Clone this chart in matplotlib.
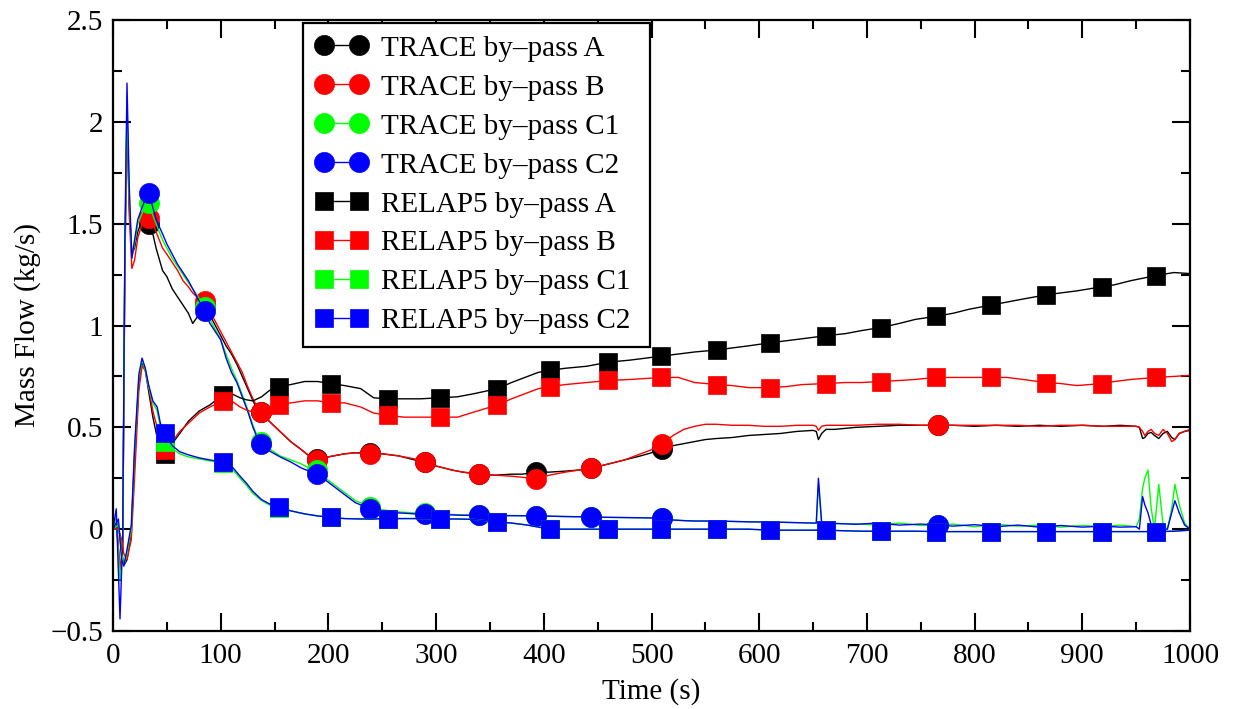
import numpy as np
import matplotlib
matplotlib.use("Agg")
import matplotlib.pyplot as plt
from matplotlib.ticker import MultipleLocator, FuncFormatter

plt.rcParams['font.family'] = ['Liberation Serif', 'DejaVu Serif']

# ---------------- data ----------------
TRACE_T = [0, 3, 6.5, 9, 11, 13, 15, 17.5, 20, 23,
           27, 30, 33, 37, 40, 46, 50, 55, 60, 65,
           70, 74, 78, 85, 90, 95, 100, 105, 110, 115,
           120, 125, 130, 133, 137, 145, 155, 165, 175, 182,
           189, 195, 205, 215, 225, 239, 250, 265, 280, 290,
           300, 315, 325, 340, 355, 370, 380, 393, 405, 420,
           432, 444, 460, 475, 490, 500, 510, 520, 530, 540,
           550, 560, 575, 590, 605, 620, 635, 650, 653, 655,
           658, 662, 670, 690, 710, 730, 750, 766, 780, 800,
           820, 840, 860, 880, 900, 920, 935, 950, 953, 956,
           958, 961, 964, 967, 971, 975, 979, 983, 986, 990,
           995, 1000]

TRACE_A = [0.0, 0.05, -0.2, -0.1, 1.3, 2.02, 1.6, 1.35, 1.38, 1.46,
           1.52, 1.54, 1.50, 1.45, 1.38, 1.27, 1.24, 1.18, 1.14, 1.10,
           1.06, 1.01, 1.04, 1.10, 1.05, 1.00, 0.95, 0.90, 0.86, 0.81,
           0.75, 0.69, 0.63, 0.60, 0.575, 0.53, 0.48, 0.43, 0.39, 0.36,
           0.345, 0.35, 0.36, 0.37, 0.375, 0.375, 0.37, 0.36, 0.34, 0.33,
           0.31, 0.29, 0.28, 0.27, 0.265, 0.27, 0.27, 0.28, 0.28, 0.285,
           0.29, 0.30, 0.32, 0.34, 0.36, 0.375, 0.395, 0.41, 0.42, 0.43,
           0.44, 0.445, 0.45, 0.46, 0.465, 0.47, 0.48, 0.485, 0.48, 0.44,
           0.47, 0.49, 0.49, 0.50, 0.505, 0.51, 0.51, 0.51, 0.51, 0.505,
           0.51, 0.505, 0.51, 0.505, 0.51, 0.505, 0.51, 0.505, 0.50, 0.445,
           0.45, 0.47, 0.475, 0.46, 0.445, 0.47, 0.48, 0.45, 0.44, 0.47,
           0.48, 0.485]

TRACE_B = [0.0, 0.05, -0.2, -0.1, 1.25, 2.05, 1.55, 1.28, 1.32, 1.43,
           1.50, 1.56, 1.53, 1.50, 1.46, 1.38, 1.35, 1.31, 1.27, 1.22,
           1.19, 1.16, 1.14, 1.12, 1.07, 1.02, 0.97, 0.92, 0.87, 0.82,
           0.77, 0.70, 0.64, 0.61, 0.575, 0.53, 0.48, 0.43, 0.39, 0.36,
           0.34, 0.35, 0.36, 0.37, 0.375, 0.37, 0.37, 0.36, 0.345, 0.33,
           0.31, 0.29, 0.28, 0.27, 0.265, 0.26, 0.255, 0.245, 0.265, 0.28,
           0.29, 0.30, 0.32, 0.34, 0.37, 0.39, 0.42, 0.46, 0.49, 0.505,
           0.515, 0.515, 0.51, 0.51, 0.505, 0.505, 0.51, 0.51, 0.505, 0.485,
           0.505, 0.51, 0.51, 0.51, 0.515, 0.515, 0.51, 0.51, 0.51, 0.51,
           0.51, 0.51, 0.505, 0.51, 0.51, 0.505, 0.505, 0.505, 0.50, 0.48,
           0.46, 0.48, 0.49, 0.47, 0.46, 0.49, 0.47, 0.43, 0.44, 0.47,
           0.48, 0.49]

TRACE_C1 = [0.0, 0.05, -0.25, -0.12, 1.35, 2.10, 1.65, 1.33, 1.40, 1.50,
            1.55, 1.60, 1.60, 1.54, 1.50, 1.42, 1.38, 1.33, 1.29, 1.25,
            1.21, 1.18, 1.15, 1.09, 1.03, 0.98, 0.93, 0.86, 0.79, 0.73,
            0.66, 0.59, 0.51, 0.47, 0.43, 0.395, 0.36, 0.34, 0.32, 0.30,
            0.29, 0.26, 0.22, 0.18, 0.14, 0.11, 0.095, 0.085, 0.08, 0.077,
            0.075, 0.072, 0.07, 0.07, 0.068, 0.067, 0.066, 0.065, 0.064, 0.062,
            0.061, 0.06, 0.058, 0.057, 0.056, 0.055, 0.055, 0.045, 0.042, 0.04,
            0.04, 0.04, 0.038, 0.036, 0.035, 0.034, 0.032, 0.03, 0.03, 0.22,
            0.03, 0.03, 0.028, 0.026, 0.02, 0.03, 0.018, 0.02, 0.025, 0.012,
            0.025, 0.015, 0.02, 0.01, 0.018, 0.012, 0.02, 0.012, 0.05, 0.20,
            0.25, 0.29, 0.10, 0.0, 0.22, 0.02, 0.0, 0.10, 0.22, 0.12,
            0.03, 0.0]

TRACE_C2 = [0.0, 0.10, -0.44, -0.05, 1.40, 2.19, 1.70, 1.33, 1.42, 1.52,
            1.58, 1.62, 1.65, 1.58, 1.52, 1.45, 1.40, 1.35, 1.30, 1.26,
            1.22, 1.18, 1.14, 1.07, 1.01, 0.97, 0.93, 0.84, 0.77, 0.72,
            0.65, 0.58, 0.50, 0.46, 0.42, 0.385, 0.355, 0.33, 0.30, 0.285,
            0.27, 0.25, 0.21, 0.17, 0.13, 0.10, 0.09, 0.08, 0.075, 0.075,
            0.072, 0.07, 0.068, 0.068, 0.067, 0.066, 0.066, 0.065, 0.064, 0.062,
            0.061, 0.06, 0.058, 0.057, 0.056, 0.055, 0.055, 0.045, 0.042, 0.04,
            0.04, 0.04, 0.038, 0.036, 0.035, 0.034, 0.032, 0.03, 0.03, 0.25,
            0.03, 0.03, 0.028, 0.024, 0.03, 0.02, 0.025, 0.02, 0.015, 0.022,
            0.012, 0.02, 0.01, 0.018, 0.01, 0.015, 0.01, 0.012, 0.0, 0.16,
            0.12, 0.08, 0.02, 0.0, 0.0, 0.0, 0.0, 0.08, 0.14, 0.08,
            0.02, 0.0]

TRACE_MARK_T = [33, 85, 137, 189, 239, 290, 340, 393, 444, 510, 766]

RELAP_T = [0, 5, 8, 10, 13, 17, 20, 24, 27, 30,
           33, 37, 41, 44, 48, 55, 62, 70, 80, 90,
           102, 110, 118, 124, 130, 138, 145, 154, 165, 178,
           190, 202, 215, 230, 242, 255, 270, 285, 304, 320,
           335, 357, 370, 385, 395, 406, 420, 440, 460, 480,
           495, 509, 525, 540, 561, 575, 590, 610, 625, 640,
           662, 680, 695, 713, 730, 745, 764, 780, 795, 815,
           830, 845, 866, 880, 895, 918, 930, 945, 968, 985,
           1000]

RELAP_A = [0.0, 0.02, -0.1, -0.18, -0.15, -0.02, 0.35, 0.72, 0.82, 0.78,
           0.68, 0.55, 0.45, 0.42, 0.37, 0.42, 0.47, 0.53, 0.58, 0.61,
           0.66, 0.665, 0.645, 0.635, 0.63, 0.65, 0.68, 0.70, 0.71, 0.725,
           0.725, 0.715, 0.705, 0.69, 0.645, 0.64, 0.64, 0.64, 0.645, 0.65,
           0.665, 0.69, 0.72, 0.75, 0.77, 0.78, 0.79, 0.80, 0.82, 0.83,
           0.84, 0.85, 0.86, 0.87, 0.88, 0.89, 0.90, 0.915, 0.925, 0.935,
           0.95, 0.96, 0.975, 0.99, 1.01, 1.03, 1.045, 1.06, 1.08, 1.10,
           1.115, 1.13, 1.15, 1.16, 1.17, 1.19, 1.20, 1.22, 1.245, 1.26,
           1.255]

RELAP_B = [0.0, 0.0, -0.05, -0.12, -0.15, -0.05, 0.25, 0.68, 0.80, 0.78,
           0.70, 0.58, 0.50, 0.45, 0.39, 0.43, 0.48, 0.52, 0.57, 0.60,
           0.63, 0.63, 0.60, 0.585, 0.575, 0.59, 0.60, 0.61, 0.62, 0.63,
           0.63, 0.62, 0.62, 0.60, 0.57, 0.56, 0.55, 0.55, 0.55, 0.55,
           0.575, 0.61, 0.64, 0.67, 0.69, 0.70, 0.71, 0.72, 0.73, 0.735,
           0.74, 0.745, 0.745, 0.72, 0.71, 0.705, 0.695, 0.695, 0.70, 0.71,
           0.715, 0.72, 0.72, 0.725, 0.73, 0.735, 0.745, 0.745, 0.745, 0.745,
           0.745, 0.735, 0.72, 0.715, 0.705, 0.715, 0.725, 0.735, 0.745, 0.75,
           0.755]

RELAP_C1 = [0.0, 0.02, -0.12, -0.18, -0.12, 0.0, 0.38, 0.74, 0.83, 0.78,
            0.70, 0.62, 0.58, 0.50, 0.43, 0.395, 0.37, 0.355, 0.345, 0.335,
            0.325, 0.30, 0.25, 0.215, 0.175, 0.14, 0.12, 0.105, 0.09, 0.075,
            0.065, 0.058, 0.052, 0.05, 0.05, 0.052, 0.052, 0.052, 0.05, 0.05,
            0.048, 0.035, 0.03, 0.02, 0.01, 0.0, 0.0, 0.0, 0.0, 0.0,
            0.0, 0.0, 0.0, 0.0, 0.0, 0.0, 0.0, -0.005, -0.005, -0.005,
            -0.005, -0.008, -0.01, -0.01, -0.01, -0.01, -0.012, -0.012, -0.012, -0.012,
            -0.012, -0.012, -0.012, -0.012, -0.012, -0.012, -0.012, -0.012, -0.012, -0.01,
            -0.005]

RELAP_C2 = [0.0, 0.05, -0.15, -0.18, -0.1, 0.02, 0.40, 0.76, 0.84, 0.79,
            0.71, 0.63, 0.60, 0.52, 0.47, 0.41, 0.38, 0.365, 0.35, 0.34,
            0.33, 0.31, 0.26, 0.225, 0.185, 0.145, 0.125, 0.11, 0.09, 0.075,
            0.065, 0.058, 0.052, 0.05, 0.05, 0.052, 0.052, 0.052, 0.05, 0.05,
            0.048, 0.035, 0.03, 0.02, 0.01, 0.0, 0.0, 0.0, 0.0, 0.0,
            0.0, 0.0, 0.0, 0.0, 0.0, 0.0, 0.0, -0.005, -0.005, -0.005,
            -0.005, -0.008, -0.01, -0.01, -0.01, -0.01, -0.012, -0.012, -0.012, -0.012,
            -0.012, -0.012, -0.012, -0.012, -0.012, -0.012, -0.012, -0.012, -0.012, -0.01,
            -0.005]

RELAP_MARK_T = [48, 102, 154, 202, 255, 304, 357, 406, 460, 509, 561, 610,
                662, 713, 764, 815, 866, 918, 968]

LABELS_TRACE = ["TRACE by\u2013pass A", "TRACE by\u2013pass B",
                "TRACE by\u2013pass C1", "TRACE by\u2013pass C2"]
LABELS_RELAP = ["RELAP5 by\u2013pass A", "RELAP5 by\u2013pass B",
                "RELAP5 by\u2013pass C1", "RELAP5 by\u2013pass C2"]
COLORS = ["#000000", "#ff0000", "#00ff00", "#0000ff"]

X_TICKS = [0, 100, 200, 300, 400, 500, 600, 700, 800, 900, 1000]
Y_TICKS = [-0.5, 0, 0.5, 1, 1.5, 2, 2.5]

# ---------------- figure ----------------
W, H = 1240, 709
fig = plt.figure(figsize=(W / 100, H / 100), dpi=100)
ax = fig.add_axes([113 / W, 1 - 631 / H, 1077 / W, 611 / H])

FS = 21


def mark_idx(tgrid, tmarks):
    tg = np.asarray(tgrid, dtype=float)
    return [int(np.argmin(np.abs(tg - m))) for m in tmarks]


tr_idx = mark_idx(TRACE_T, TRACE_MARK_T)
re_idx = mark_idx(RELAP_T, RELAP_MARK_T)

for vals, lab, col in zip([TRACE_A, TRACE_B, TRACE_C1, TRACE_C2], LABELS_TRACE, COLORS):
    ax.plot(TRACE_T, vals, color=col, lw=1.0, marker='o', ms=14.5,
            markevery=tr_idx, mfc=col, mec=col, mew=0.5, label=lab)

for vals, lab, col in zip([RELAP_A, RELAP_B, RELAP_C1, RELAP_C2], LABELS_RELAP, COLORS):
    ax.plot(RELAP_T, vals, color=col, lw=1.0, marker='s', ms=12.5,
            markevery=re_idx, mfc=col, mec=col, mew=0.5, label=lab)

ax.set_xlim(0, 1000)
ax.set_ylim(-0.5, 2.5)
ax.set_xticks(X_TICKS)
ax.set_yticks(Y_TICKS)
ax.xaxis.set_minor_locator(MultipleLocator(50))
ax.yaxis.set_minor_locator(MultipleLocator(0.25))
ax.yaxis.set_major_formatter(FuncFormatter(lambda v, p: ("%g" % v).replace("-", "\u2212")))

ax.tick_params(which='both', direction='in', top=True, right=True, width=1.5,
               labelsize=FS, color='black')
ax.tick_params(which='major', length=13)
ax.tick_params(axis='x', which='major', pad=8.5)
ax.tick_params(axis='y', which='major', pad=7)
ax.tick_params(which='minor', length=6.5)
for s in ax.spines.values():
    s.set_linewidth(1.6)

ax.set_xlabel("Time (s)", fontsize=FS, labelpad=7)
ax.set_ylabel("Mass Flow (kg/s)", fontsize=FS, labelpad=7)

x0 = (303 - 113) / 1077
x1 = (650 - 113) / 1077
ytop = (631 - 23) / 611
ybot = (631 - 343) / 611
leg = ax.legend(loc='upper left', bbox_to_anchor=(x0, ybot, x1 - x0, ytop - ybot),
                mode='expand', borderaxespad=0, fontsize=FS, numpoints=2,
                handlelength=1.8, handletextpad=0.46, labelspacing=0.43,
                borderpad=0.42, fancybox=False, framealpha=1, edgecolor='black')
leg.get_frame().set_linewidth(1.6)

fig.savefig("out.png", dpi=100)
